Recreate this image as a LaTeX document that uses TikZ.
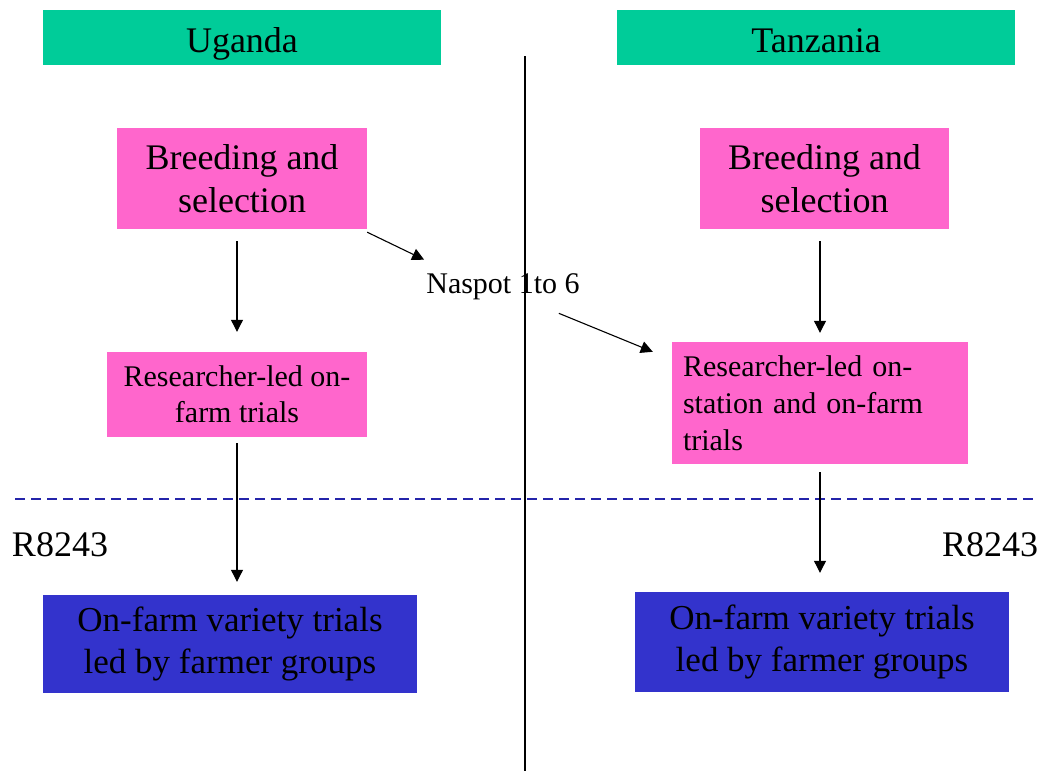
\documentclass[tikz,border=0pt]{standalone}
\usepackage{fontspec}
\setmainfont{Liberation Serif}
\usetikzlibrary{arrows.meta}
\definecolor{hdr}{HTML}{00CC99}
\definecolor{pnk}{HTML}{FF66CC}
\definecolor{blu}{HTML}{3333CC}
\definecolor{dashblue}{HTML}{2424AA}
\tikzset{
  hdrbox/.style={fill=hdr, inner sep=0pt, minimum width=398pt, minimum height=55pt, text height=33pt, text depth=4pt, font=\fontsize{36}{43}\selectfont},
  pinkbox/.style={fill=pnk, inner sep=0pt, align=center},
  bluebox/.style={fill=blu, inner sep=0pt, align=center, minimum width=374pt, font=\fontsize{35}{42}\selectfont},
  arr/.style={line width=1.1pt, -{Triangle[length=12pt,width=12pt]}},
  lbl/.style={inner sep=0pt},
}
\begin{document}
\begin{tikzpicture}[x=1pt,y=-1pt]
\useasboundingbox (0,0) rectangle (1037,771);
% headers
\node[hdrbox] (ug) at (242,37.5) {Uganda};
\node[hdrbox] (tz) at (816,37.5) {Tanzania};
% divider
\coordinate (vtop) at (525,56);
\coordinate (vbot) at (525,771);
\draw[line width=1.3pt] (vtop) -- (vbot);
% dashed line
\coordinate (dl) at (15,499);
\coordinate (dr) at (1037,499);
\draw[dashblue, line width=2pt, dash pattern=on 10pt off 6pt] (dl) -- (dr);
% Uganda column
\node[pinkbox, minimum width=250pt, minimum height=101pt, font=\fontsize{36}{43}\selectfont] (ugb) at (242,178.5) {Breeding and\\selection};
\node[pinkbox, minimum width=260pt, minimum height=85pt, font=\fontsize{30}{36}\selectfont] (ugr) at (237,394.5) {Researcher-led on-\\farm trials};
\node[bluebox, minimum height=98pt] (ugf) at (230,644) {On-farm variety trials\\led by farmer groups};
% Tanzania column
\node[pinkbox, minimum width=249pt, minimum height=101pt, font=\fontsize{36}{43}\selectfont] (tzb) at (824.5,178.5) {Breeding and\\selection};
\node[fill=pnk, inner xsep=11pt, inner ysep=0pt, text width=274pt, align=left, minimum height=122pt, font=\fontsize{30}{37}\selectfont] (tzr) at (820,403) {Researcher-led on-\\station and on-farm\\trials};
\node[bluebox, minimum height=100pt] (tzf) at (822,642) {On-farm variety trials\\led by farmer groups};
% labels
\node[lbl, font=\fontsize{30}{36}\selectfont] (nas) at (503,287) {Naspot 1to 6};
\node[lbl, font=\fontsize{36}{43}\selectfont] (rl) at (60,545) {R8243};
\node[lbl, anchor=west, font=\fontsize{36}{43}\selectfont] (rr) at (942,545) {R8243};
% arrows
\draw[arr, shorten <=12pt, shorten >=20pt] (ugr.north |- ugb.south) -- (ugr.north);
\draw[arr, shorten <=6pt, shorten >=13pt] (ugr.south) -- (ugr.south |- ugf.north);
\draw[arr, shorten <=12pt, shorten >=9pt] (tzr.north |- tzb.south) -- (tzr.north);
\draw[arr, shorten <=8pt, shorten >=19pt] (tzr.south) -- (tzr.south |- tzf.north);
\draw[arr] ([shift={(0,3)}]ugb.south east) -- ([shift={(-2,-14)}]nas.north west);
\draw[arr] ([shift={(-21,13)}]nas.south east) -- ([shift={(-19,10)}]tzr.north west);
\end{tikzpicture}
\end{document}
